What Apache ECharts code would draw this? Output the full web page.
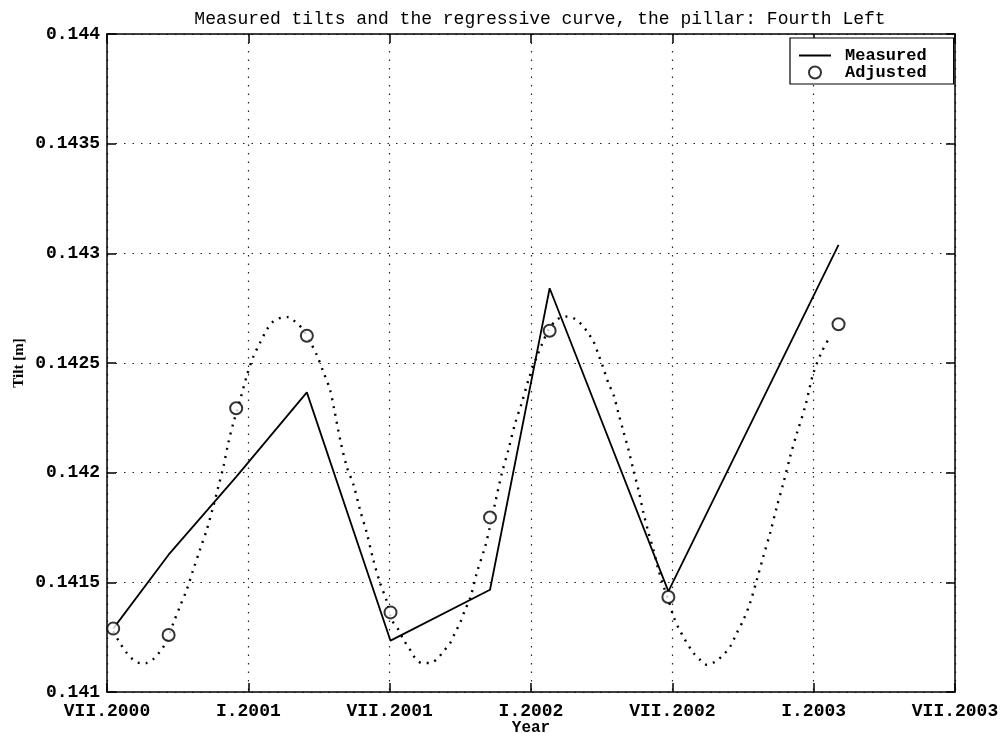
<!DOCTYPE html>
<html>
<head>
<meta charset="utf-8">
<script src="https://cdn.jsdelivr.net/npm/echarts@6/dist/echarts.min.js"></script>
<style>
  html, body { margin: 0; padding: 0; background: #fff; }
  #chart { width: 1002px; height: 733px; }
</style>
</head>
<body>
<div id="chart"></div>
<script>
const epochs = [2000.522, 2000.718, 2000.957, 2001.207, 2001.503, 2001.855, 2002.066, 2002.486, 2003.088];
const measured = [0.141289, 0.141626, 0.141981, 0.142366, 0.141234, 0.141466, 0.142841, 0.141459, 0.143039];
const adjusted = [0.141289, 0.141260, 0.142294, 0.142624, 0.141363, 0.141796, 0.142647, 0.141433, 0.142677];

// regressive curve (dotted)
const curveYears = [
  2000.522, 2000.546, 2000.570, 2000.593, 2000.617, 2000.640, 2000.664, 2000.688, 2000.711, 2000.735,
  2000.758, 2000.782, 2000.805, 2000.829, 2000.853, 2000.876, 2000.894, 2000.912, 2000.929, 2000.947,
  2000.971, 2000.994, 2001.018, 2001.041, 2001.065, 2001.088, 2001.118, 2001.142, 2001.165, 2001.189,
  2001.218, 2001.242, 2001.265, 2001.289, 2001.303, 2001.325, 2001.348, 2001.372, 2001.395, 2001.419,
  2001.442, 2001.466, 2001.490, 2001.507, 2001.531, 2001.549, 2001.572, 2001.590, 2001.614, 2001.643,
  2001.667, 2001.690, 2001.714, 2001.731, 2001.749, 2001.767, 2001.785, 2001.808, 2001.838, 2001.855,
  2001.873, 2001.897, 2001.920, 2001.944, 2001.967, 2001.991, 2002.021, 2002.038, 2002.062, 2002.091,
  2002.121, 2002.150, 2002.174, 2002.198, 2002.221, 2002.239, 2002.256, 2002.274, 2002.292, 2002.309,
  2002.327, 2002.345, 2002.362, 2002.380, 2002.398, 2002.416, 2002.433, 2002.451, 2002.469, 2002.486,
  2002.504, 2002.522, 2002.545, 2002.575, 2002.598, 2002.622, 2002.652, 2002.681, 2002.705, 2002.728,
  2002.752, 2002.775, 2002.799, 2002.822, 2002.846, 2002.870, 2002.893, 2002.917, 2002.941, 2002.970,
  2002.999, 2003.029, 2003.058
];
const curveTilts = [
  0.141276, 0.141223, 0.141178, 0.141147, 0.141132, 0.141132, 0.141150, 0.141185, 0.141231, 0.141315,
  0.141390, 0.141466, 0.141557, 0.141649, 0.141740, 0.141846, 0.141937, 0.142028, 0.142135, 0.142226,
  0.142332, 0.142439, 0.142530, 0.142591, 0.142651, 0.142689, 0.142707, 0.142709, 0.142689, 0.142659,
  0.142598, 0.142537, 0.142461, 0.142378, 0.142294, 0.142150, 0.142028, 0.141945, 0.141831, 0.141725,
  0.141603, 0.141497, 0.141413, 0.141330, 0.141284, 0.141238, 0.141193, 0.141155, 0.141132, 0.141132,
  0.141150, 0.141185, 0.141223, 0.141269, 0.141315, 0.141375, 0.141428, 0.141542, 0.141664, 0.141755,
  0.141861, 0.141998, 0.142104, 0.142226, 0.142317, 0.142423, 0.142530, 0.142583, 0.142651, 0.142697,
  0.142712, 0.142705, 0.142682, 0.142644, 0.142598, 0.142537, 0.142477, 0.142408, 0.142355, 0.142272,
  0.142188, 0.142104, 0.142013, 0.141922, 0.141816, 0.141725, 0.141649, 0.141557, 0.141481, 0.141421,
  0.141345, 0.141292, 0.141238, 0.141178, 0.141147, 0.141124, 0.141139, 0.141170, 0.141208, 0.141269,
  0.141330, 0.141406, 0.141512, 0.141618, 0.141725, 0.141846, 0.141953, 0.142074, 0.142181, 0.142302,
  0.142454, 0.142552, 0.142621
];

const xTickLabels = ['VII.2000', 'I.2001', 'VII.2001', 'I.2002', 'VII.2002', 'I.2003', 'VII.2003'];

const MONO = "'Liberation Mono', 'DejaVu Sans Mono', monospace";

const zip = (xs, ys) => xs.map((x, i) => [x, ys[i]]);

const chart = echarts.init(document.getElementById('chart'));

const gridDots = { show: true, lineStyle: { color: '#222', type: [1.5, 7], width: 1.2 } };
const inTicks = { show: true, inside: true, length: 9, lineStyle: { color: '#000', width: 1.5 } };
const boxLine = { show: true, onZero: false, lineStyle: { color: '#000', width: 1.5 } };

const option = {
    backgroundColor: '#fff',
    animation: false,
    title: {
        text: 'Measured tilts and the regressive curve, the pillar: Fourth Left',
        left: 535,
        top: 5,
        textAlign: 'center',
        textStyle: { fontFamily: MONO, fontSize: 18, fontWeight: 'normal', color: '#000' }
    },
    legend: {
        data: [
            { name: 'Measured', itemStyle: { opacity: 0 } },
            { name: 'Adjusted' }
        ],
        orient: 'vertical',
        left: 790,
        top: 38,
        padding: [9, 27, 3, 8],
        itemGap: 0,
        itemWidth: 32,
        itemHeight: 12,
        borderColor: '#000',
        borderWidth: 1.2,
        backgroundColor: '#fff',
        textStyle: { fontFamily: MONO, fontSize: 17, fontWeight: 'bold', color: '#000', padding: [0, 0, 0, 9] }
    },
    grid: { left: 107, right: 47, top: 34, bottom: 41, outerBoundsMode: 'none' },
    xAxis: [{
        type: 'value',
        min: 2000.5,
        max: 2003.5,
        interval: 0.5,
        name: 'Year',
        nameLocation: 'middle',
        nameGap: 28,
        nameMoveOverlap: false,
        nameTextStyle: { fontFamily: MONO, fontSize: 16, fontWeight: 'bold', color: '#000', verticalAlign: 'top' },
        axisLine: boxLine,
        axisTick: inTicks,
        splitLine: gridDots,
        axisLabel: {
            margin: 10,
            fontFamily: MONO, fontSize: 18, fontWeight: 'bold', color: '#000',
            formatter: v => xTickLabels[Math.round((v - 2000.5) * 2)] || ''
        }
    }, {
        type: 'value',
        position: 'top',
        min: 2000.5,
        max: 2003.5,
        interval: 0.5,
        axisLine: boxLine,
        axisTick: inTicks,
        splitLine: { show: false },
        axisLabel: { show: false }
    }],
    yAxis: [{
        type: 'value',
        min: 0.141,
        max: 0.144,
        interval: 0.0005,
        name: 'Tilt [m]',
        nameLocation: 'middle',
        nameGap: 80,
        nameMoveOverlap: false,
        nameTextStyle: { fontFamily: "'Liberation Serif', serif", fontSize: 15, fontWeight: 'bold', color: '#000' },
        axisLine: boxLine,
        axisTick: inTicks,
        splitLine: gridDots,
        axisLabel: {
            margin: 7,
            fontFamily: MONO, fontSize: 18, fontWeight: 'bold', color: '#000',
            formatter: v => String(+v.toFixed(4))
        }
    }, {
        type: 'value',
        position: 'right',
        min: 0.141,
        max: 0.144,
        interval: 0.0005,
        axisLine: boxLine,
        axisTick: inTicks,
        splitLine: { show: false },
        axisLabel: { show: false }
    }],
    series: [
        {
            name: 'Regressive curve',
            type: 'line',
            data: zip(curveYears, curveTilts),
            symbol: 'none',
            smooth: 0.3,
            lineStyle: { color: '#000', width: 2.4, type: [2, 6] },
            z: 2
        },
        {
            name: 'Measured',
            type: 'line',
            data: zip(epochs, measured),
            symbol: 'none',
            lineStyle: { color: '#000', width: 1.8 },
            itemStyle: { color: '#000' },
            z: 3
        },
        {
            name: 'Adjusted',
            type: 'scatter',
            data: zip(epochs, adjusted),
            symbol: 'emptyCircle',
            symbolSize: 12,
            itemStyle: { color: '#000', borderColor: '#000', borderWidth: 1.6 },
            z: 4
        }
    ]
};

chart.setOption(option);
</script>
</body>
</html>
